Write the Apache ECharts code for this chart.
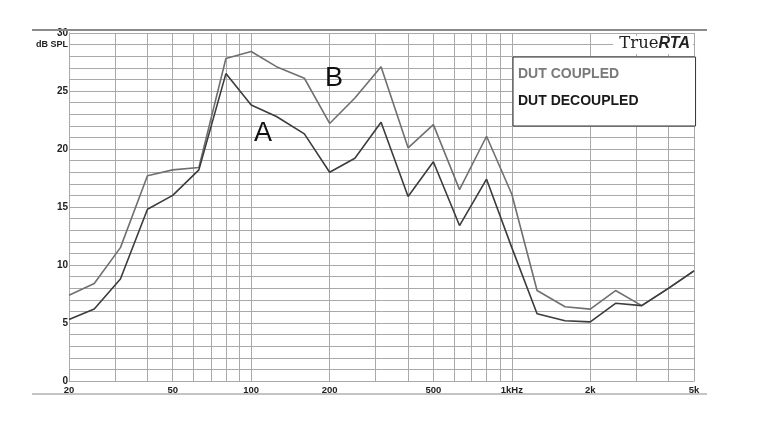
<!DOCTYPE html>
<html>
<head>
<meta charset="utf-8">
<script src="https://cdn.jsdelivr.net/npm/echarts@6/dist/echarts.min.js"></script>
<style>
html,body{margin:0;padding:0;background:#fff;}
#chart{width:765px;height:425px;}
</style>
</head>
<body>
<div id="chart"></div>
<script>
// Frequencies (Hz), 1/3-octave points
var freqs = [20,25,31.5,40,50,63,80,100,125,160,200,250,315,400,500,630,800,1000,1250,1600,2000,2500,3150,4000,5000];
// DUT COUPLED (curve B), dB SPL
var coupled = [7.4,8.4,11.5,17.7,18.2,18.4,27.8,28.4,27.1,26.1,22.2,24.4,27.1,20.1,22.1,16.5,21.1,16.1,7.8,6.4,6.2,7.8,6.5,8.0,9.5];
// DUT DECOUPLED (curve A), dB SPL
var decoupled = [5.3,6.2,8.8,14.8,16.0,18.2,26.5,23.8,22.8,21.3,18.0,19.2,22.3,15.9,18.9,13.4,17.4,11.5,5.8,5.2,5.1,6.7,6.5,8.0,9.5];
// Grid frequencies and labelled frequencies
var gridFreqs = [20,30,40,50,60,70,80,90,100,200,300,400,500,600,700,800,900,1000,2000,3000,4000,5000];
var labelFreqs = [20,50,100,200,500,1000,2000,5000];
var labelText = {20:'20',50:'50',100:'100',200:'200',500:'500',1000:'1kHz',2000:'2k',5000:'5k'};
// Curve annotations
var annA = [111, 21.3];
var annB = [208, 26.1];

function pairs(xs, ys){ return xs.map(function(x,i){ return [x, ys[i]]; }); }

var chart = echarts.init(document.getElementById('chart'), null, {renderer:'canvas'});
var gridColor = '#a9a9a9';
var font = '"Liberation Sans", Arial, sans-serif';
chart.setOption({
  animation:false,
  backgroundColor:'#fff',
  grid:{left:69, right:71, top:33, bottom:44, containLabel:false},
  xAxis:{
    type:'log', logBase:10, min:20, max:5000,
    axisLine:{show:true, lineStyle:{color:gridColor, width:1}},
    axisTick:{show:false, customValues:gridFreqs},
    splitLine:{show:true, lineStyle:{color:gridColor, width:1}},
    minorSplitLine:{show:false},
    axisLabel:{customValues:labelFreqs, margin:4, color:'#222', fontFamily:font, fontWeight:'bold', fontSize:9.5,
      formatter:function(v){ return labelText[Math.round(v)] || ''; }}
  },
  yAxis:{
    type:'value', min:0, max:30, interval:5,
    axisLine:{show:true, lineStyle:{color:gridColor, width:1}},
    axisTick:{show:false},
    minorTick:{show:false, splitNumber:5},
    splitLine:{show:true, lineStyle:{color:gridColor, width:1}},
    minorSplitLine:{show:true, lineStyle:{color:gridColor, width:1}},
    axisLabel:{margin:1, color:'#222', fontFamily:font, fontWeight:'bold', fontSize:10}
  },
  legend:{
    orient:'vertical', left:513, top:57,
    backgroundColor:'#fff', borderColor:'#333', borderWidth:1,
    padding:[10,57,18,0], itemGap:13, itemWidth:0, itemHeight:14, icon:'rect',
    selectedMode:false,
    textStyle:{fontFamily:font, fontWeight:'bold', fontSize:14},
    data:[
      {name:'DUT COUPLED', textStyle:{color:'#7a7a7a'}},
      {name:'DUT DECOUPLED', textStyle:{color:'#1a1a1a'}}
    ]
  },
  series:[
    {name:'DUT COUPLED', type:'line', symbol:'none', data:pairs(freqs, coupled),
      lineStyle:{color:'#707070', width:1.6}, itemStyle:{color:'#707070'},
      markPoint:{symbol:'circle', symbolSize:0, silent:true,
        label:{show:true, position:'inside', formatter:'B', fontFamily:font, fontSize:27, color:'#111'},
        data:[{coord:annB}]}
    },
    {name:'DUT DECOUPLED', type:'line', symbol:'none', data:pairs(freqs, decoupled),
      lineStyle:{color:'#3c3c3c', width:1.6}, itemStyle:{color:'#3c3c3c'},
      markPoint:{symbol:'circle', symbolSize:0, silent:true,
        label:{show:true, position:'inside', formatter:'A', fontFamily:font, fontSize:27, color:'#111'},
        data:[{coord:annA}]}
    }
  ],
  graphic:[
    {type:'line', z:100, shape:{x1:32,y1:30,x2:707,y2:30}, style:{stroke:'#8a8a8a', lineWidth:2}},
    {type:'line', z:100, shape:{x1:32,y1:394,x2:707,y2:394}, style:{stroke:'#b0b0b0', lineWidth:1.5}},
    {type:'rect', z:100, shape:{x:613,y:36,width:80,height:18}, style:{fill:'#fff'}},
    {type:'text', z:101, right:75, top:35, style:{
      text:'{a|True}{b|RTA}',
      rich:{a:{fontFamily:'"DejaVu Serif", serif', fontSize:16.5, fill:'#222'},
            b:{fontFamily:font, fontWeight:'bold', fontStyle:'italic', fontSize:16, fill:'#222'}}
    }},
    {type:'text', z:101, right:697, top:40, style:{text:'dB SPL', fontFamily:font, fontWeight:'bold', fontSize:9, fill:'#222', textAlign:'right'}}
  ]
});
</script>
</body>
</html>
